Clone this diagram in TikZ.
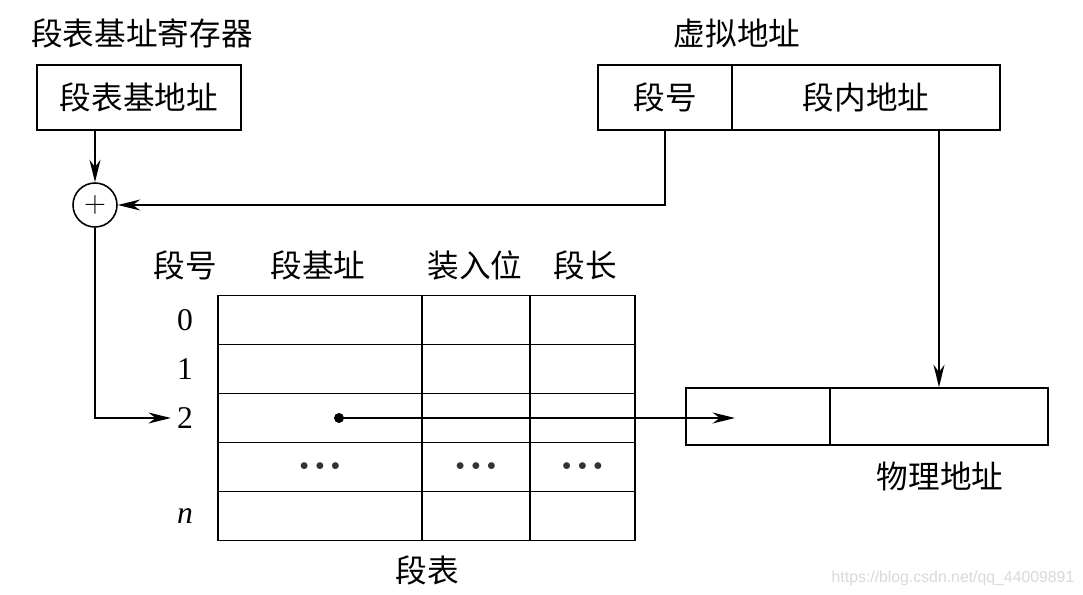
\documentclass[tikz,border=0pt]{standalone}
\usepackage{fontspec}
\setmainfont{Liberation Serif}
\newfontfamily\cjk{Noto Sans CJK SC}
\newfontfamily\wmfont{Liberation Sans}
\usepackage{tikz}
\usetikzlibrary{arrows.meta,positioning,calc}

\begin{document}
\begin{tikzpicture}[
    x=0.02cm, y=-0.02cm,
    font=\cjk\fontsize{18}{20}\selectfont,
    box/.style={rectangle, draw, line width=0.9pt, minimum height=1.3cm, inner sep=0pt},
    cell/.style={rectangle, draw, line width=0.9pt, minimum height=0.98cm, inner sep=0pt},
    num/.style={font=\rmfamily\fontsize{18}{20}\selectfont},
    dots/.style={font=\fontsize{10}{12}\selectfont, text=black!80},
    link/.style={draw, line width=0.9pt},
    >={Stealth[length=4.5mm,width=2.2mm]}
]
    \useasboundingbox (0,0) rectangle (1083,595);

    % Registers and addresses
    \node (regtitle) at (142,33) {段表基址寄存器};
    \node[box, minimum width=4.08cm] (regbox) at (139,97.5) {段表基地址};
    \node (vatitle) at (737,33) {虚拟地址};
    \node[box, minimum width=2.68cm] (seg) at (665,97.5) {段号};
    \node[box, minimum width=5.36cm] (off) at (866,97.5) {段内地址};
    \node[circle, draw, line width=0.9pt, minimum size=0.88cm, inner sep=0pt] (adder) at (95,205) {$+$};

    % Segment table
    \node (hnum) at (185,265) {段号};
    \node (hbase) at (318,265) {段基址};
    \node (hload) at (475,265) {装入位};
    \node (hlen) at (585,265) {段长};
    \foreach \r/\y in {0/320, 1/369, 2/418, 3/467, 4/516} {
        \node[cell, minimum width=4.08cm] (base\r) at (320,\y) {};
        \node[cell, minimum width=2.16cm] (load\r) at (476,\y) {};
        \node[cell, minimum width=2.10cm] (len\r) at (582.5,\y) {};
    }
    \node[num] (r0) at (185,320) {0};
    \node[num] (r1) at (185,369) {1};
    \node[num] (r2) at (185,418) {2};
    \node[num] (rn) at (185,516) {\textit{n}};
    \node[dots] (dotsa) at (base3) {$\bullet\,\bullet\,\bullet$};
    \node[dots] (dotsb) at (load3) {$\bullet\,\bullet\,\bullet$};
    \node[dots] (dotsc) at (len3) {$\bullet\,\bullet\,\bullet$};
    \node (tabtitle) at (427,570) {段表};

    % Physical address
    \node[box, minimum height=1.14cm, minimum width=2.88cm] (phyhi) at (758,416.5) {};
    \node[box, minimum height=1.14cm, minimum width=4.36cm] (phylo) at (939,416.5) {};
    \node (patitle) at (940,476) {物理地址};

    % Connectors
    \draw[link,->] (adder.north |- regbox.south) -- (adder.north);
    \draw[link,->] (seg.south) |- (adder.east);
    \draw[link,->] (adder.south) |- (r2.west);
    \draw[link,->] (phylo.north |- off.south) -- (phylo.north);
    \coordinate (ptrend) at (735,418);
    \draw[link,->] (339,418) coordinate (ptrstart) -- (ptrend);
    \node[circle, fill, inner sep=0pt, minimum size=0.2cm] (ptr) at (ptrstart) {};

    \node[font=\wmfont\fontsize{9}{10}\selectfont, text=gray!30] (mark) at (953,578) {https://blog.csdn.net/qq\_44009891};
\end{tikzpicture}
\end{document}
